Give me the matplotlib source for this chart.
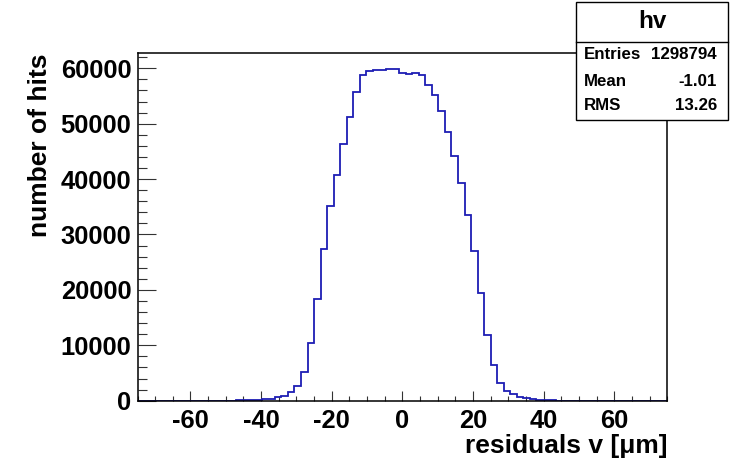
import matplotlib
matplotlib.use("Agg")
import matplotlib.pyplot as plt
from matplotlib.patches import Rectangle
from matplotlib.lines import Line2D
from matplotlib.ticker import MultipleLocator
import numpy as np

# histogram binning: 81 bins over [-75, 75]
x_lo, x_hi, n_bins = -75.0, 75.0, 81
first_bin = 15
counts_nonzero = [
    120, 140, 160, 180, 220, 360, 680, 900, 1600, 2710,
    5200, 10470, 18300, 27440, 35120, 40720, 46250, 51230, 55750, 58800,
    59430, 59650, 59700, 59900, 59900, 59220, 59000, 59190, 58820, 57050,
    55190, 52360, 48560, 44180, 39360, 33470, 26950, 19390, 11830, 6410,
    3220, 1800, 1120, 660, 420, 360, 160, 140, 120,
]
y_max = 62700

x_ticks = [-60, -40, -20, 0, 20, 40, 60]
y_ticks = [0, 10000, 20000, 30000, 40000, 50000, 60000]

stats_title = "hv"
stats_names = ["Entries", "Mean", "RMS"]
stats_values = ["1298794", "-1.01", "13.26"]

x_label = "residuals v [\u03bcm]"
y_label = "number of hits"

plt.rcParams["font.family"] = ["Liberation Sans", "DejaVu Sans"]
plt.rcParams["font.weight"] = "bold"
plt.rcParams["axes.unicode_minus"] = False

W, H = 738, 459
fig = plt.figure(figsize=(W / 100, H / 100), dpi=100)
left, right, top, bottom = 137.5, 667.3, 53.3, 400.7
ax = fig.add_axes([left / W, 1 - bottom / H, (right - left) / W, (bottom - top) / H])

edges = np.linspace(x_lo, x_hi, n_bins + 1)
counts = np.zeros(n_bins)
counts[first_bin:first_bin + len(counts_nonzero)] = counts_nonzero
ax.stairs(counts, edges, baseline=None, color="#1e1eb4", linewidth=1.3, zorder=2)

ax.set_xlim(x_lo, x_hi)
ax.set_ylim(0, y_max)
ax.set_xticks(x_ticks)
ax.set_xticklabels([str(v) for v in x_ticks])
ax.set_yticks(y_ticks)
ax.set_yticklabels([str(v) for v in y_ticks])
ax.xaxis.set_minor_locator(MultipleLocator(5))
ax.yaxis.set_minor_locator(MultipleLocator(2000))

ax.tick_params(axis="both", which="both", direction="in", color="#333333", width=0.8,
               labelsize=18.4)
ax.tick_params(axis="x", which="major", length=7.2, pad=6)
ax.tick_params(axis="x", which="minor", length=3.6)
ax.tick_params(axis="y", which="major", length=12.7, pad=4.5)
ax.tick_params(axis="y", which="minor", length=6.2)
for lab in ax.get_xticklabels() + ax.get_yticklabels():
    lab.set_fontweight("bold")
for sp in ax.spines.values():
    sp.set_linewidth(1.1)
    sp.set_color("black")

fig.text(right / W, 1 - 453 / H, x_label, ha="right", va="baseline",
         fontsize=19, fontweight="bold")
fig.text(40 / W, 1 - top / H, y_label, rotation=90, ha="center", va="top",
         fontsize=19, fontweight="bold")

# stats box
bx0, bx1, by0, by1 = 575.7, 728.3, 1.7, 120.0
fig.add_artist(Rectangle((bx0 / W, 1 - by1 / H), (bx1 - bx0) / W, (by1 - by0) / H,
                         transform=fig.transFigure, facecolor="white",
                         edgecolor="black", linewidth=1.0, zorder=5))
fig.add_artist(Line2D([bx0 / W, bx1 / W], [1 - 42.3 / H, 1 - 42.3 / H],
                      transform=fig.transFigure, color="black", linewidth=1.0, zorder=6))
fig.text((bx0 + bx1) / 2 / W, 1 - 22 / H, stats_title, ha="center", va="center",
         fontsize=17.5, fontweight="bold", zorder=7)
for name, val, yc in zip(stats_names, stats_values, [54.5, 81.5, 105.5]):
    fig.text(584 / W, 1 - yc / H, name, ha="left", va="center",
             fontsize=12.2, fontweight="bold", zorder=7)
    fig.text(717 / W, 1 - yc / H, val, ha="right", va="center",
             fontsize=12.2, fontweight="bold", zorder=7)

fig.savefig("out.png", dpi=100)
